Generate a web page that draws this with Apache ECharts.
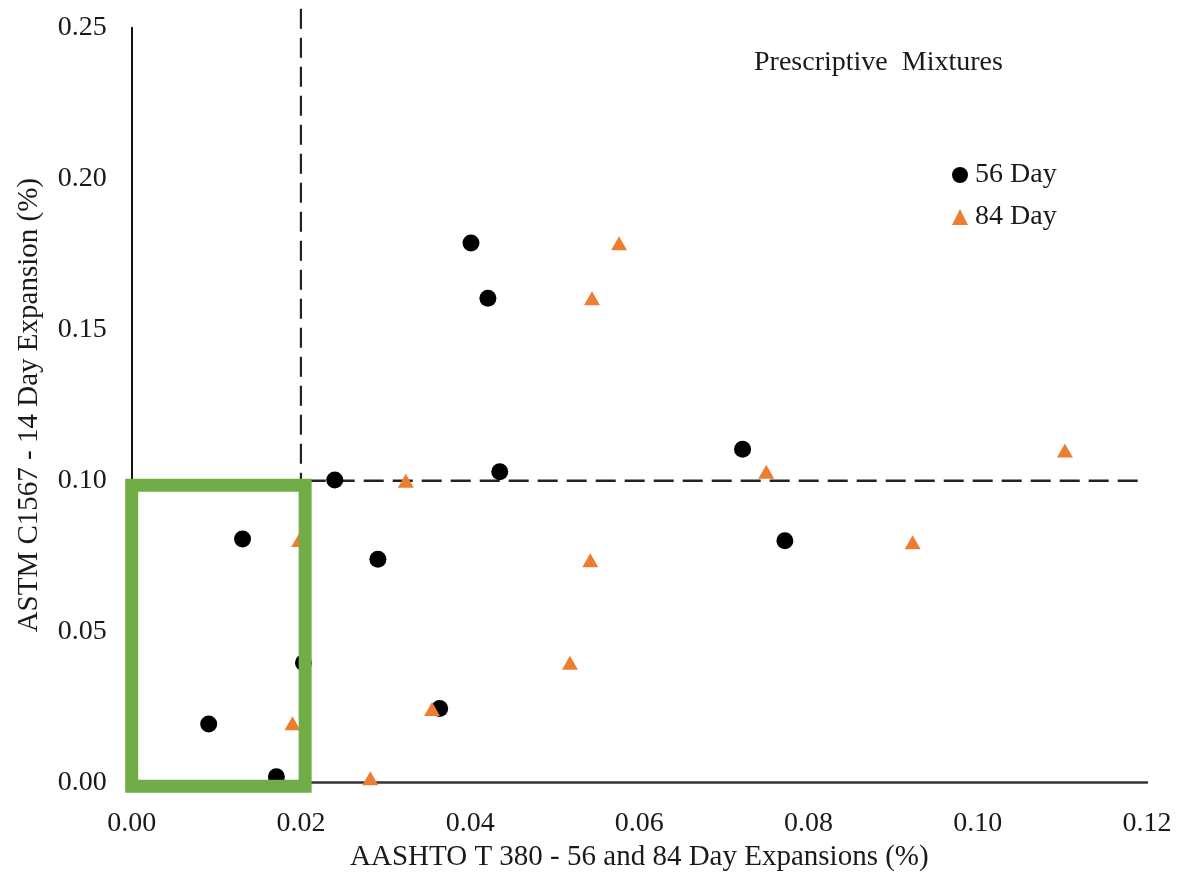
<!DOCTYPE html>
<html>
<head>
<meta charset="utf-8">
<title>Prescriptive Mixtures</title>
<script src="https://cdn.jsdelivr.net/npm/echarts@6/dist/echarts.min.js"></script>
<style>
  html, body { margin: 0; padding: 0; background: #fff; }
  #chart { width: 1178px; height: 873px; }
</style>
</head>
<body>
<div id="chart"></div>
<script>
// AASHTO T 380 expansion (x, %) vs ASTM C1567 14-day expansion (y, %)
const day56 = [
  [0.0401, 0.1787], [0.0421, 0.1604], [0.0435, 0.1030], [0.0240, 0.1002],
  [0.0722, 0.1104], [0.0772, 0.0801], [0.0131, 0.0807], [0.0291, 0.0740],
  [0.0203, 0.0397], [0.0091, 0.0194], [0.0364, 0.0246], [0.0171, 0.0020]
];
const day84 = [
  [0.0576, 0.1786], [0.0544, 0.1604], [0.0324, 0.1000], [0.0750, 0.1030],
  [0.1103, 0.1100], [0.0923, 0.0796], [0.0198, 0.0804], [0.0190, 0.0197],
  [0.0355, 0.0244], [0.0282, 0.0015], [0.0542, 0.0737], [0.0518, 0.0397]
];
// Acceptance limits
const limitX = [[0.02, 0], [0.02, 0.2569]];
const limitY = [[0, 0.10], [0.1192, 0.10]];
// Region passing both tests
const passBox = [
  [0.0000, -0.0012], [0.0205, -0.0012], [0.0205, 0.0985],
  [0.0000, 0.0985], [0.0000, -0.0012]
];
const xTicks = { min: 0, max: 0.12, interval: 0.02 };
const yTicks = { min: 0, max: 0.25, interval: 0.05 };

const font = 'Liberation Serif, Times New Roman, serif';
const chart = echarts.init(document.getElementById('chart'), null, { renderer: 'canvas' });

chart.setOption({
  backgroundColor: '#fff',
  animation: false,
  title: {
    text: 'Prescriptive  Mixtures',
    left: 749,
    top: 44,
    textStyle: { fontFamily: font, fontSize: 28, fontWeight: 'normal', color: '#1a1a1a' }
  },
  legend: {
    orient: 'vertical',
    left: 947,
    top: 156,
    itemWidth: 16,
    itemHeight: 16,
    itemGap: 14,
    textStyle: { fontFamily: font, fontSize: 28, color: '#1a1a1a', lineHeight: 28, padding: [0, 0, 0, 2] },
    data: ['56 Day', '84 Day']
  },
  grid: {
    left: 131.7, top: 27.7, right: 31, bottom: 90.3,
    containLabel: false, outerBoundsMode: 'none'
  },
  xAxis: {
    type: 'value',
    min: xTicks.min, max: xTicks.max, interval: xTicks.interval,
    name: 'AASHTO T 380 - 56 and 84 Day Expansions (%)',
    nameLocation: 'middle',
    nameGap: 59,
    nameTextStyle: { fontFamily: font, fontSize: 29, color: '#1a1a1a' },
    axisLine: { show: true, lineStyle: { color: '#333', width: 2.5 } },
    axisTick: { show: false },
    splitLine: { show: false },
    axisLabel: {
      margin: 27, fontFamily: font, fontSize: 28, color: '#1a1a1a',
      formatter: v => v.toFixed(2)
    }
  },
  yAxis: {
    type: 'value',
    min: yTicks.min, max: yTicks.max, interval: yTicks.interval,
    name: 'ASTM C1567 - 14 Day Expansion (%)',
    nameLocation: 'middle',
    nameGap: 88,
    nameTextStyle: { fontFamily: font, fontSize: 29, color: '#1a1a1a' },
    axisLine: { show: true, onZero: false, lineStyle: { color: '#111', width: 2 } },
    axisTick: { show: false },
    splitLine: { show: false },
    axisLabel: {
      margin: 25, fontFamily: font, fontSize: 28, color: '#1a1a1a',
      formatter: v => v.toFixed(2)
    }
  },
  series: [
    {
      name: 'limitX', type: 'line', data: limitX, clip: false,
      symbol: 'none', silent: true, z: 1,
      lineStyle: { color: '#222', width: 2.2, type: [20, 9] }
    },
    {
      name: 'limitY', type: 'line', data: limitY, clip: false,
      symbol: 'none', silent: true, z: 1,
      lineStyle: { color: '#222', width: 2.5, type: [20, 9] }
    },
    {
      name: '56 Day', type: 'scatter', data: day56,
      symbol: 'circle', symbolSize: 17, z: 3,
      itemStyle: { color: '#000', opacity: 1 }
    },
    {
      name: '84 Day', type: 'scatter', data: day84,
      symbol: 'triangle', symbolSize: [16, 14], z: 3,
      itemStyle: { color: '#ED7D31', opacity: 1 }
    },
    {
      name: 'passBox', type: 'line', data: passBox, clip: false,
      symbol: 'none', silent: true, z: 10,
      lineStyle: { color: '#70AD47', width: 13, join: 'miter', cap: 'square' }
    }
  ]
});
</script>
</body>
</html>
